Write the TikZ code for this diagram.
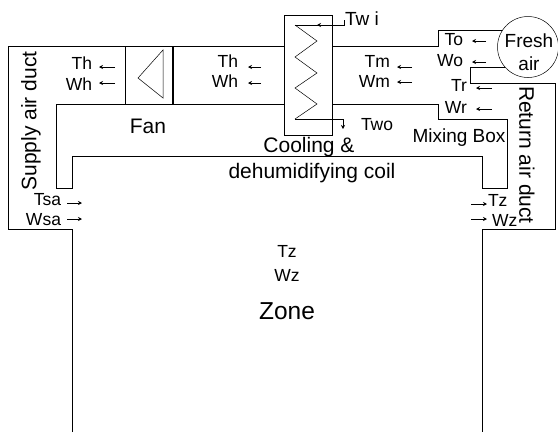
\documentclass[tikz,border=0pt]{standalone}
\usepackage{fontspec}
\setmainfont{Liberation Sans}
\usetikzlibrary{arrows.meta}

\begin{document}
\begin{tikzpicture}[
  x = 1pt, y = -1pt,
  every node/.style = {inner sep=0pt, outer sep=0pt},
  duct/.style = {draw, line width=0.9pt},
  thinline/.style = {draw, line width=0.5pt},
  flow/.style = {draw, line width=0.7pt, -{Stealth[length=4pt, width=4pt]}},
  small/.style = {font=\fontsize{17.5}{20}\selectfont},
  big/.style = {font=\fontsize{21}{24}\selectfont},
]
\useasboundingbox (0, 0) rectangle (558, 432);

% Air path, outer and inner walls
\node[draw, circle, line width=0.5pt, minimum size=61pt] (fresh) at (528, 47) {};
\node[font=\fontsize{19}{24}\selectfont] (freshtop) at (529, 41) {Fresh};
\node[font=\fontsize{19}{24}\selectfont] (freshair) at (529, 64) {air};
\draw[duct] (72, 432) -- (72, 229) -- (8, 229) -- (8, 46) -- (284, 46);
\draw[duct] (333, 46) -- (438, 46) -- (438, 30) -- (502, 30);
\draw[duct] (505, 67) -- (470, 67) -- (470, 83) -- (555, 83) -- (555, 229) -- (482, 229) -- (482, 432);
\draw[duct] (284, 104) -- (56, 104) -- (56, 188) -- (72, 188) -- (72, 156) -- (482, 156)
  -- (482, 188) -- (507, 188) -- (507, 119) -- (438, 119) -- (438, 104) -- (333, 104);

% Fan
\draw[duct] (125.5, 46) -- (125.5, 104);
\draw[duct, line width=1.6pt] (173, 46) -- (173, 104);
\draw[thinline] (163, 50) -- (138, 78) -- (163, 98) -- cycle;

% Coil
\draw[duct] (284.5, 15) rectangle (332.5, 135);
\draw[thinline] (295, 25) -- (317, 41) -- (295, 57) -- (317, 73) -- (295, 88) -- (317, 104) -- (295, 119);
\coordinate (wi) at (344, 20);
\coordinate (wo) at (343, 119);
\draw[duct] (wi) -- (344, 25) -- (295, 25);
\draw[flow] (330, 25) -- (317, 25);
\draw[duct] (295, 119) -- (wo);
\draw[flow] (wo) -- (343, 129);

% Labels to the left of their arrows
\foreach \name/\txt/\xx/\yy in {th1/Th/92/63, wh1/Wh/92/84, th2/Th/238/61, wh2/Wh/238/81,
    tm/Tm/390/61, wm/Wm/390/81, to/To/463/40, wo2/Wo/463/61, tr/Tr/467/85, wr/Wr/467/107,
    tsa/Tsa/61/200, wsa/Wsa/61/220}
  \node[small, anchor=east] (\name) at (\xx, \yy) {\txt};

\node[small, anchor=west] (tz) at (488, 200) {Tz};
\node[small, anchor=west] (wz) at (492, 220) {Wz};
\node[small, anchor=west] (two) at (361, 125) {Two};
\node[small, anchor=west, font=\fontsize{19}{22}\selectfont] (twi) at (345, 19) {Tw i};
\node[small] (tzone) at (287, 251) {Tz};
\node[small] (wzone) at (287, 275) {Wz};

% Flow arrows, tail then tip
\foreach \xa/\xb/\yy in {115/99/67, 115/99/83, 261/248/67, 261/248/83, 412/397/67, 412/397/82,
    486/472/41, 486/472/62, 492/476/88, 492/476/109, 471/487/204, 471/487/219,
    67/82/203, 67/82/219}
  \draw[flow] (\xa, \yy) -- (\xb, \yy);

\node[big] (fan) at (148, 126) {Fan};
\node[big] (cool) at (309, 147) {Cooling \&};
\node[big] (dehum) at (312, 173) {dehumidifying coil};
\node[small, font=\fontsize{19}{22}\selectfont] (mix) at (459, 138) {Mixing Box};
\node[big, rotate=90] (supply) at (31, 121) {Supply air duct};
\node[big, rotate=-90] (return) at (527, 155) {Return air duct};
\node[font=\fontsize{24.5}{28}\selectfont] (zone) at (287, 311) {Zone};

\end{tikzpicture}
\end{document}
